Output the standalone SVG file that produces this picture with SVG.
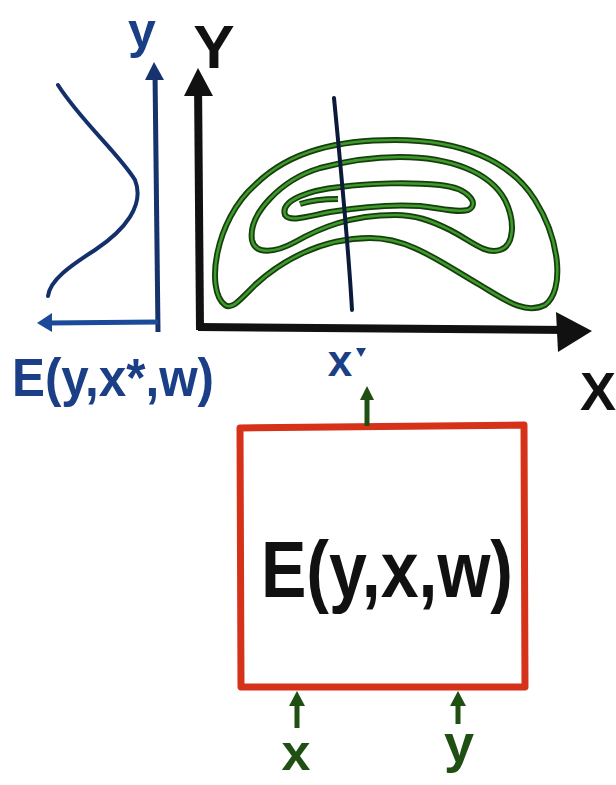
<svg xmlns="http://www.w3.org/2000/svg" width="616" height="785" viewBox="0 0 616 785">
<style>
.lbl{font-family:"Liberation Sans","DejaVu Sans",sans-serif;font-weight:bold;}
.blue{fill:#1b3f86;}
.ink{fill:#111;}
.grn{fill:#1f4f12;}
.cont-o{fill:none;stroke:#163d0c;stroke-width:6;stroke-linejoin:round;}
.cont-i{fill:none;stroke:#3e9a2c;stroke-width:2.5;stroke-linejoin:round;}
</style>
<rect width="616" height="785" fill="#fff"/>
<g id="left-plot">
  <path d="M158,332 L155,72" stroke="#16336e" stroke-width="5" fill="none"/>
  <path d="M145,80 L154,62 L164,80 Z" fill="#16336e"/>
  <path d="M158,322 L48,323" stroke="#1b4a9a" stroke-width="5" fill="none"/>
  <path d="M52,313 L37,323 L52,332 Z" fill="#1b4a9a"/>
  <path d="M58,85 C80,120 120,155 135,180 C145,205 125,230 95,250 C70,266 50,280 48,296" stroke="#14306a" stroke-width="4" fill="none" stroke-linecap="round"/>
  <text class="lbl blue" x="142" y="48" font-size="50" text-anchor="middle">y</text>
  <text class="lbl blue" x="113" y="396" font-size="54" text-anchor="middle" textLength="202" lengthAdjust="spacingAndGlyphs">E(y,x*,w)</text>
</g>
<g id="main-plot">
  <path d="M200,330 L198,80" stroke="#111" stroke-width="8" fill="none"/>
  <path d="M184,96 L198,68 L213,96 Z" fill="#111"/>
  <path d="M198,327 L570,330" stroke="#111" stroke-width="8" fill="none"/>
  <path d="M556,312 L592,331 L558,352 Z" fill="#111"/>
  <text class="lbl ink" x="214" y="68" font-size="62" text-anchor="middle">Y</text>
  <text class="lbl ink" x="598" y="410" font-size="54" text-anchor="middle">X</text>
</g>
<g id="contours">
  <path class="cont-o" d="M225,305 C205,290 215,220 255,185 C290,150 340,140 395,140 C460,140 510,160 535,200 C560,240 565,290 545,305 C525,315 505,300 480,285 C440,262 410,238 370,238 C320,238 280,262 255,285 C240,300 232,310 225,305 Z"/>
  <path class="cont-i" d="M225,305 C205,290 215,220 255,185 C290,150 340,140 395,140 C460,140 510,160 535,200 C560,240 565,290 545,305 C525,315 505,300 480,285 C440,262 410,238 370,238 C320,238 280,262 255,285 C240,300 232,310 225,305 Z"/>
  <path class="cont-o" d="M252,240 C248,215 280,180 320,168 C350,160 375,157 400,157 C450,157 490,172 505,200 C515,220 515,245 500,250 C485,255 470,240 450,230 C430,220 415,215 395,215 C350,215 320,228 295,242 C275,253 255,255 252,240 Z"/>
  <path class="cont-i" d="M252,240 C248,215 280,180 320,168 C350,160 375,157 400,157 C450,157 490,172 505,200 C515,220 515,245 500,250 C485,255 470,240 450,230 C430,220 415,215 395,215 C350,215 320,228 295,242 C275,253 255,255 252,240 Z"/>
  <path class="cont-o" d="M285,215 C280,200 310,190 340,187 C370,183 410,182 440,185 C470,188 480,205 468,210 C455,213 440,208 420,206 C390,204 360,207 330,212 C305,217 290,222 285,215 Z"/>
  <path class="cont-i" d="M285,215 C280,200 310,190 340,187 C370,183 410,182 440,185 C470,188 480,205 468,210 C455,213 440,208 420,206 C390,204 360,207 330,212 C305,217 290,222 285,215 Z"/>
  <path class="cont-o" d="M300,204 C312,200 325,199 338,199"/>
  <path class="cont-i" d="M300,204 C312,200 325,199 338,199"/>
</g>
<g id="x-star">
  <path d="M334,98 C340,160 348,240 352,310" stroke="#0c1a3a" stroke-width="4" fill="none" stroke-linecap="round"/>
  <text class="lbl blue" x="340" y="376" font-size="44" text-anchor="middle">x</text>
  <path d="M356,348 L366,348 L361,357 Z" fill="#1b3f86"/>
</g>
<g id="energy-box">
  <path d="M240,428 L524,425 L525,687 L241,687 Z" fill="none" stroke="#d6321a" stroke-width="7" stroke-linejoin="round"/>
  <text class="lbl ink" x="387" y="597" font-size="80" text-anchor="middle" textLength="252" lengthAdjust="spacingAndGlyphs">E(y,x,w)</text>
</g>
<g id="input-labels">
  <text class="lbl grn" x="296" y="770" font-size="52" text-anchor="middle">x</text>
  <text class="lbl grn" x="459" y="762" font-size="54" text-anchor="middle">y</text>
</g>
<g id="connectors">
  <path d="M367,426 L367,398" stroke="#1f4f12" stroke-width="5" fill="none"/>
  <path d="M360,400 L367,386 L374,400 Z" fill="#1f4f12"/>
  <path d="M297,728 L297,703" stroke="#1f4f12" stroke-width="5" fill="none"/>
  <path d="M289,706 L297,691 L305,706 Z" fill="#1f4f12"/>
  <path d="M458,724 L458,703" stroke="#1f4f12" stroke-width="5" fill="none"/>
  <path d="M450,706 L458,691 L466,706 Z" fill="#1f4f12"/>
</g>
</svg>
